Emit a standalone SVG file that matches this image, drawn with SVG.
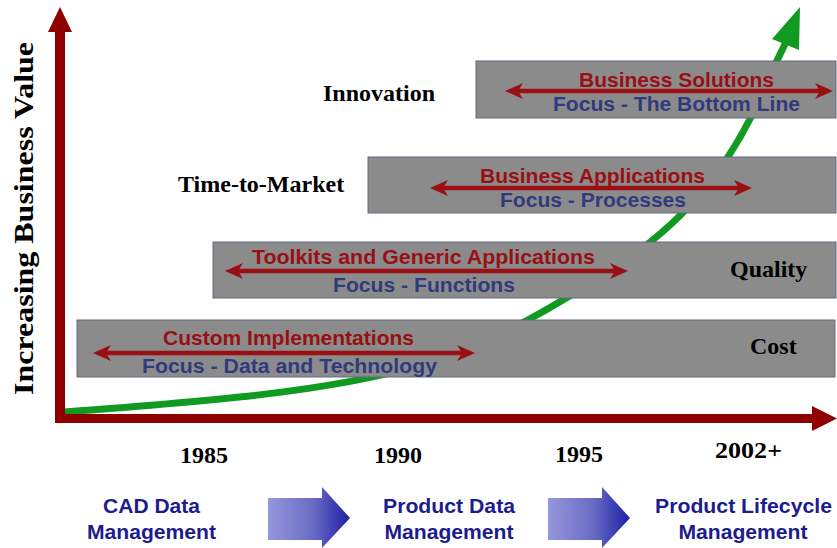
<svg xmlns="http://www.w3.org/2000/svg" width="837" height="548" viewBox="0 0 837 548">
  <defs>
    <style>
      .box { fill: #8b8b8b; stroke: #646b80; stroke-width: 1; }
      .red { font-family: "Liberation Sans", Arial, sans-serif; font-weight: bold; font-size: 21px; fill: #9a0f14; text-anchor: middle; }
      .blue { font-family: "Liberation Sans", Arial, sans-serif; font-weight: bold; font-size: 20px; fill: #323a7e; text-anchor: middle; }
      .serif { font-family: "Liberation Serif", "Times New Roman", serif; font-weight: bold; font-size: 24px; fill: #000; }
      .stage { font-family: "Liberation Sans", Arial, sans-serif; font-weight: bold; font-size: 21px; fill: #1c1c8f; text-anchor: middle; }
      .span { stroke: #9a0f14; stroke-width: 4.5; fill: none; marker-start: url(#dh); marker-end: url(#dh); }
      .axis { fill: #8e0000; }
    </style>
    <marker id="dh" viewBox="0 0 18 16" markerWidth="18" markerHeight="16" markerUnits="userSpaceOnUse" refX="8" refY="8" orient="auto-start-reverse">
      <path d="M0,0 L18,8 L0,16 L5,8 z" fill="#9a0f14"/>
    </marker>
    <linearGradient id="blk" x1="0" y1="0" x2="1" y2="0">
      <stop offset="0" stop-color="#9597dc"/>
      <stop offset="0.55" stop-color="#6a6cc4"/>
      <stop offset="1" stop-color="#1d1ea6"/>
    </linearGradient>
  </defs>

  <!-- growth curve (behind boxes) -->
  <g id="growth-curve">
    <path d="M64,412 C200,402 330,392 420,365 C500,340 560,305 640,250 C700,205 740,150 770,75 L787,40" fill="none" stroke="#119a22" stroke-width="7"/>
    <polygon points="800,7 799,50 772,39" fill="#119a22"/>
  </g>

  <!-- axes -->
  <g id="axes">
    <rect class="axis" x="55" y="30" width="10" height="393"/>
    <polygon class="axis" points="60,7 72,32 48,32"/>
    <rect class="axis" x="55" y="414" width="759" height="9"/>
    <polygon class="axis" points="837,418.5 812,406 812,431"/>
    <text class="serif" transform="translate(33,395) rotate(-90)" textLength="353" lengthAdjust="spacingAndGlyphs" style="font-size:28px">Increasing Business Value</text>
  </g>

  <!-- level boxes -->
  <g id="box-business-solutions">
    <rect class="box" x="476" y="61" width="360" height="57"/>
    <text class="red" x="676.5" y="87" textLength="195" lengthAdjust="spacingAndGlyphs">Business Solutions</text>
    <text class="blue" x="676.5" y="111" textLength="247" lengthAdjust="spacingAndGlyphs">Focus - The Bottom Line</text>
  </g>
  <g id="box-business-applications">
    <rect class="box" x="368" y="157" width="468" height="56"/>
    <text class="red" x="592.5" y="183" textLength="225" lengthAdjust="spacingAndGlyphs">Business Applications</text>
    <text class="blue" x="593" y="207" textLength="186" lengthAdjust="spacingAndGlyphs">Focus - Processes</text>
  </g>
  <g id="box-toolkits">
    <rect class="box" x="213" y="242" width="623" height="56"/>
    <text class="red" x="423.5" y="264" textLength="343" lengthAdjust="spacingAndGlyphs">Toolkits and Generic Applications</text>
    <text class="blue" x="424" y="292" textLength="182" lengthAdjust="spacingAndGlyphs">Focus - Functions</text>
  </g>
  <g id="box-custom">
    <rect class="box" x="77" y="320" width="758" height="57"/>
    <text class="red" x="288.5" y="345" textLength="251" lengthAdjust="spacingAndGlyphs">Custom Implementations</text>
    <text class="blue" x="289.5" y="373" textLength="295" lengthAdjust="spacingAndGlyphs">Focus - Data and Technology</text>
  </g>

  <!-- span connectors -->
  <g id="connectors">
    <line class="span" x1="515" y1="91" x2="823" y2="91"/>
    <line class="span" x1="440" y1="188" x2="742" y2="188"/>
    <line class="span" x1="235" y1="271" x2="618" y2="271"/>
    <line class="span" x1="103" y1="353" x2="465" y2="353"/>
  </g>

  <!-- value labels -->
  <g id="label-innovation"><text class="serif" x="323" y="101">Innovation</text></g>
  <g id="label-time-to-market"><text class="serif" x="178" y="192">Time-to-Market</text></g>
  <g id="label-quality"><text class="serif" x="730" y="277">Quality</text></g>
  <g id="label-cost"><text class="serif" x="750" y="354">Cost</text></g>

  <!-- years -->
  <g id="year-1985"><text class="serif" x="180" y="463">1985</text></g>
  <g id="year-1990"><text class="serif" x="374" y="463">1990</text></g>
  <g id="year-1995"><text class="serif" x="555" y="462">1995</text></g>
  <g id="year-2002"><text class="serif" x="715" y="458" textLength="67" lengthAdjust="spacingAndGlyphs">2002+</text></g>

  <!-- stages -->
  <g id="stage-cad">
    <text class="stage" x="151.5" y="513" textLength="97" lengthAdjust="spacingAndGlyphs">CAD Data</text>
    <text class="stage" x="151.5" y="539" textLength="129" lengthAdjust="spacingAndGlyphs">Management</text>
  </g>
  <g id="stage-arrow-1">
    <polygon points="268,498 322,498 322,487 350,518 322,548 322,540 268,540" fill="url(#blk)"/>
  </g>
  <g id="stage-pdm">
    <text class="stage" x="449" y="513" textLength="132" lengthAdjust="spacingAndGlyphs">Product Data</text>
    <text class="stage" x="449" y="539" textLength="129" lengthAdjust="spacingAndGlyphs">Management</text>
  </g>
  <g id="stage-arrow-2">
    <polygon points="548,498 602,498 602,487 630,518 602,548 602,540 548,540" fill="url(#blk)"/>
  </g>
  <g id="stage-plm">
    <text class="stage" x="743.5" y="513" textLength="177" lengthAdjust="spacingAndGlyphs">Product Lifecycle</text>
    <text class="stage" x="743" y="539" textLength="129" lengthAdjust="spacingAndGlyphs">Management</text>
  </g>
</svg>
